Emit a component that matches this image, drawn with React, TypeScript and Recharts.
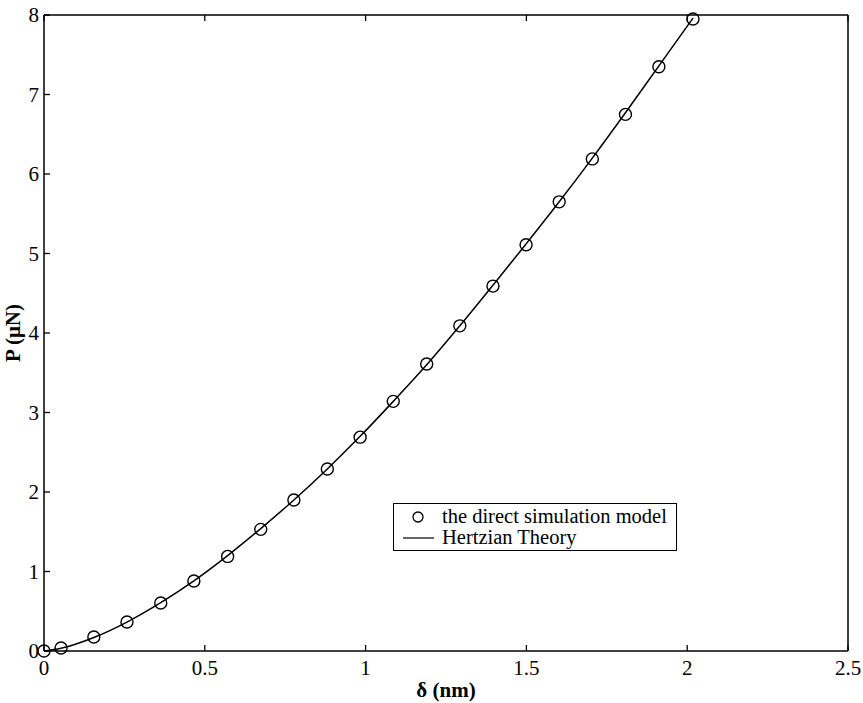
import React from 'react';
import { ComposedChart, Line, Scatter, XAxis, YAxis, Label } from 'recharts';

// indentation depth in nm
const deltaNm = [
  0, 0.053, 0.155, 0.258, 0.363, 0.466, 0.571, 0.674, 0.777, 0.881,
  0.983, 1.086, 1.19, 1.293, 1.396, 1.499, 1.602, 1.705, 1.808, 1.912, 2.018,
];

// load from the direct simulation model (μN)
const simulationP = [
  0, 0.038, 0.176, 0.365, 0.604, 0.88, 1.19, 1.53, 1.9, 2.29,
  2.69, 3.14, 3.61, 4.09, 4.59, 5.11, 5.65, 6.19, 6.75, 7.35, 7.95,
];

// Hertzian theory curve (μN)
const hertzP = [
  0, 0.034, 0.17, 0.364, 0.608, 0.882, 1.2, 1.54, 1.9, 2.29,
  2.7, 3.14, 3.6, 4.09, 4.6, 5.12, 5.65, 6.2, 6.77, 7.36, 7.96,
];

const xTicks = [0, 0.5, 1, 1.5, 2, 2.5];
const yTicks = [0, 1, 2, 3, 4, 5, 6, 7, 8];

const data = deltaNm.map((d, i) => ({ delta: d, sim: simulationP[i], hertz: hertzP[i] }));

const FONT = '"Liberation Serif", "Times New Roman", serif';
const TICK_LEN = 6;

const BottomTick = ({ x, y, payload }: any) => (
  <g>
    <line x1={x} y1={y} x2={x} y2={y - TICK_LEN} stroke="#000" strokeWidth={1.3} />
    <text x={x} y={y + 24} textAnchor="middle" fontFamily={FONT} fontSize={21} fill="#000">
      {String(payload.value)}
    </text>
  </g>
);

// top and right axes only carry inward tick marks, no labels
const TopTick = ({ x, y }: any) => (
  <line x1={x} y1={y} x2={x} y2={y + TICK_LEN} stroke="#000" strokeWidth={1.3} />
);

const LeftTick = ({ x, y, payload }: any) => (
  <g>
    <line x1={x} y1={y} x2={x + TICK_LEN} y2={y} stroke="#000" strokeWidth={1.3} />
    <text x={x - 5} y={y + 7} textAnchor="end" fontFamily={FONT} fontSize={21} fill="#000">
      {String(payload.value)}
    </text>
  </g>
);

const RightTick = ({ x, y }: any) => (
  <line x1={x} y1={y} x2={x - TICK_LEN} y2={y} stroke="#000" strokeWidth={1.3} />
);

const Circle = ({ cx, cy }: any) => (
  <circle cx={cx} cy={cy} r={6} fill="none" stroke="#000" strokeWidth={1.4} />
);

// legend sits inside the plot area, lower right of the curve
const LegendBox = () => (
  <div
    style={{
      position: 'absolute',
      left: 393,
      top: 503,
      width: 284,
      height: 48,
      border: '1.5px solid #000',
      background: '#fff',
      fontFamily: FONT,
      fontSize: 20.5,
      color: '#000',
      boxSizing: 'border-box',
      lineHeight: '21px',
      paddingTop: 2,
    }}
  >
    <div style={{ display: 'flex', alignItems: 'center' }}>
      <svg width={48} height={21}>
        <circle cx={24} cy={11} r={5} fill="none" stroke="#000" strokeWidth={1.3} />
      </svg>
      <span>the direct simulation model</span>
    </div>
    <div style={{ display: 'flex', alignItems: 'center' }}>
      <svg width={48} height={21}>
        <line x1={9} y1={11} x2={40} y2={11} stroke="#000" strokeWidth={1.2} />
      </svg>
      <span>Hertzian Theory</span>
    </div>
  </div>
);

export default function App() {
  return (
    <div style={{ position: 'absolute', left: 0, top: 0, width: 863, height: 703, background: '#fff' }}>
      <ComposedChart
        width={863}
        height={703}
        data={data}
        margin={{ top: 14, right: 14, bottom: 0, left: 0 }}
      >
        <XAxis
          xAxisId="bottom"
          dataKey="delta"
          type="number"
          domain={[0, 2.5]}
          ticks={xTicks}
          height={52}
          tickSize={0}
          tickMargin={0}
          tickLine={false}
          tick={<BottomTick />}
          axisLine={{ stroke: '#000', strokeWidth: 1.5 }}
          interval={0}
        >
          <Label
            content={() => (
              <text x={446} y={697} textAnchor="middle" fontFamily={FONT} fontSize={21} fontWeight="bold" fill="#000">
                δ (nm)
              </text>
            )}
          />
        </XAxis>
        <XAxis
          xAxisId="top"
          dataKey="delta"
          type="number"
          orientation="top"
          domain={[0, 2.5]}
          ticks={xTicks}
          height={1}
          tickSize={0}
          tickMargin={0}
          tickLine={false}
          tick={<TopTick />}
          axisLine={{ stroke: '#000', strokeWidth: 1.5 }}
          interval={0}
        />
        <YAxis
          yAxisId="left"
          type="number"
          domain={[0, 8]}
          ticks={yTicks}
          width={44}
          tickSize={0}
          tickMargin={0}
          tickLine={false}
          tick={<LeftTick />}
          axisLine={{ stroke: '#000', strokeWidth: 1.5 }}
          interval={0}
        >
          <Label
            content={() => (
              <text
                x={20}
                y={333}
                transform="rotate(-90 20 333)"
                textAnchor="middle"
                fontFamily={FONT}
                fontSize={21}
                fontWeight="bold"
                fill="#000"
              >
                P (μN)
              </text>
            )}
          />
        </YAxis>
        <YAxis
          yAxisId="right"
          orientation="right"
          type="number"
          domain={[0, 8]}
          ticks={yTicks}
          width={1}
          tickSize={0}
          tickMargin={0}
          tickLine={false}
          tick={<RightTick />}
          axisLine={{ stroke: '#000', strokeWidth: 1.5 }}
          interval={0}
        />
        <Line
          xAxisId="bottom"
          yAxisId="left"
          dataKey="hertz"
          type="monotone"
          stroke="#000"
          strokeWidth={1.5}
          dot={false}
          activeDot={false}
          isAnimationActive={false}
        />
        <Scatter
          xAxisId="bottom"
          yAxisId="left"
          dataKey="sim"
          shape={<Circle />}
          isAnimationActive={false}
        />
      </ComposedChart>
      <LegendBox />
    </div>
  );
}
